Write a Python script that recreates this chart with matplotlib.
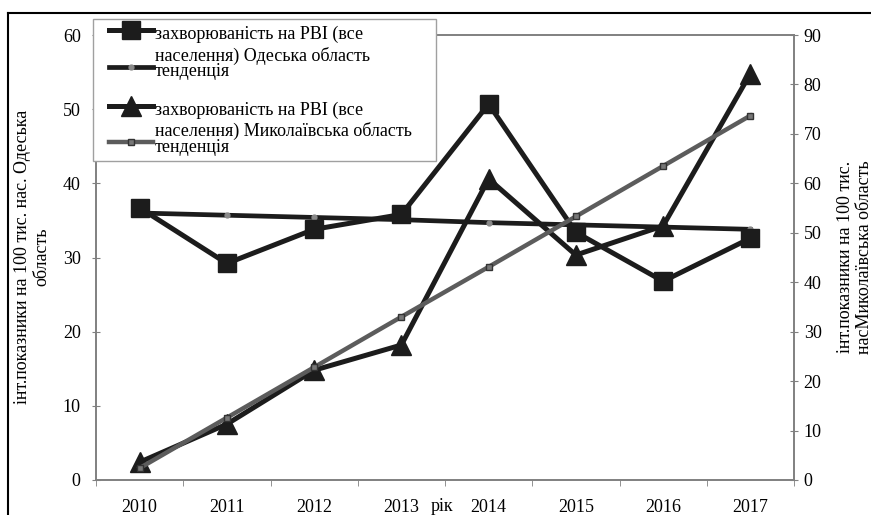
import numpy as np
import matplotlib.pyplot as plt
from matplotlib.lines import Line2D
from matplotlib.patches import Rectangle

plt.rcParams['font.family'] = ['Liberation Serif', 'DejaVu Serif']
plt.rcParams['font.size'] = 13

# дані
roky = ['2010', '2011', '2012', '2013', '2014', '2015', '2016', '2017']
odesa = [36.7, 29.2, 33.8, 35.8, 50.7, 33.4, 26.8, 32.6]
odesa_trend = [36.0, 35.7, 35.4, 35.1, 34.7, 34.4, 34.1, 33.8]
mykolaiv = [3.6, 11.3, 22.2, 27.3, 60.9, 45.5, 51.4, 82.2]
mykolaiv_trend = [2.4, 12.6, 22.8, 33.0, 43.1, 53.3, 63.5, 73.7]

W, H = 871, 515
fig = plt.figure(figsize=(W / 100, H / 100), dpi=100)


def px(x, y):
    # пікселі -> частки фігури
    return x / W, 1 - y / H


l, b = px(96, 480)
r, t = px(794, 35)
ax = fig.add_axes([l, b, r - l, t - b])
ax2 = ax.twinx()

x = np.arange(len(roky))
czorny = '#1c1c1c'
siryj = '#5c5c5c'

st_od = dict(color=czorny, lw=3.6, marker='s', ms=13)
st_od_tr = dict(color=czorny, lw=3.4, marker='o', ms=3.5, mfc='#8a8a8a', mec='#8a8a8a')
st_my = dict(color=czorny, lw=3.6, marker='^', ms=15)
st_my_tr = dict(color=siryj, lw=3.2, marker='s', ms=4, mfc='#777777', mec='#333333')

ax.plot(x, odesa, zorder=3, **st_od)
ax.plot(x, odesa_trend, zorder=2, **st_od_tr)
ax2.plot(x, mykolaiv, zorder=3, **st_my)
ax2.plot(x, mykolaiv_trend, zorder=4, **st_my_tr)

ax.set_xlim(-0.5, 7.5)
ax.set_ylim(0, 60)
ax2.set_ylim(0, 90)
ax.set_yticks(range(0, 61, 10))
ax2.set_yticks(range(0, 91, 10))
ax.set_xticks(x)
ax.set_xticklabels(roky)
ax.set_xticks(np.arange(-0.5, 8, 1), minor=True)

spine_c = '#808080'
for a in (ax, ax2):
    for s in a.spines.values():
        s.set_color(spine_c)
        s.set_linewidth(1.2)
ax.tick_params(axis='x', which='major', length=0, pad=13.5)
ax.tick_params(axis='x', which='minor', length=4, direction='out', color=spine_c)
ax.tick_params(axis='y', direction='inout', length=6, color=spine_c, pad=8)
ax2.tick_params(axis='y', direction='inout', length=6, color=spine_c, pad=4)

ax.set_xlabel('рік')
ax.xaxis.set_label_coords(0.495, -0.041)

fig.text(*px(32, 257), 'інт.показники на 100 тис. нас. Одеська\nобласть',
         rotation=90, ha='center', va='center', multialignment='center',
         linespacing=1.15)
fig.text(*px(855, 257), 'інт.показники на 100 тис.\nнасМиколаївська область',
         rotation=90, ha='center', va='center', multialignment='center',
         linespacing=1.15)

# легенда вручну (як в Excel)
x0, y0 = px(93, 161)
x1, y1 = px(436, 19)
fig.add_artist(Rectangle((x0, y0), x1 - x0, y1 - y0, transform=fig.transFigure,
                         facecolor='white', edgecolor='#a0a0a0', lw=1, zorder=5))
hx = [109 / W, 131 / W, 153 / W]
for yy, st in [(30, st_od), (67, st_od_tr), (106, st_my), (142, st_my_tr)]:
    yf = 1 - yy / H
    fig.add_artist(Line2D(hx, [yf] * 3, transform=fig.transFigure,
                          markevery=[1], zorder=6, **st))
legend_text = [
    (39, 'захворюваність на РВІ (все'),
    (61, 'населення) Одеська область'),
    (76, 'тенденція'),
    (115, 'захворюваність на РВІ (все'),
    (136, 'населення) Миколаївська область'),
    (152, 'тенденція'),
]
for yy, s in legend_text:
    fig.text(*px(155, yy), s, ha='left', va='baseline', zorder=7)

# рамка навколо рисунка
fig.add_artist(Line2D([7.5 / W, 7.5 / W], [0, 1 - 13 / H], transform=fig.transFigure,
                      color='black', lw=1.5))
fig.add_artist(Line2D([7.5 / W, 1], [1 - 13 / H, 1 - 13 / H], transform=fig.transFigure,
                      color='black', lw=1.5))

fig.savefig('out.png', dpi=100)
